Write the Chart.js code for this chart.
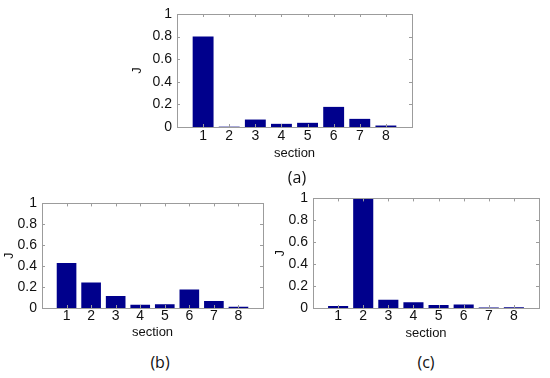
<!DOCTYPE html>
<html>
<head>
<meta charset="utf-8">
<script src="https://cdn.jsdelivr.net/npm/chart.js@4.4.0/dist/chart.umd.min.js"></script>
<style>
  body { margin: 0; background: #fff; width: 550px; height: 378px; overflow: hidden; position: relative; }
  .panel { position: absolute; }
  .cap { position: absolute; transform: translate(-50%, -50%); font: 16px "Open Sans", sans-serif; color: #111; }
</style>
</head>
<body>
<div class="panel" id="wa"><canvas id="chartA"></canvas></div>
<div class="panel" id="wb"><canvas id="chartB"></canvas></div>
<div class="panel" id="wc"><canvas id="chartC"></canvas></div>
<div class="cap" style="left:297px;top:177px">(a)</div>
<div class="cap" style="left:160px;top:362px">(b)</div>
<div class="cap" style="left:426px;top:362px">(c)</div>
<script>
// Data
const sections = [1, 2, 3, 4, 5, 6, 7, 8];
const jA = [0.80, 0.003, 0.066, 0.028, 0.037, 0.178, 0.072, 0.013];
const jB = [0.43, 0.244, 0.115, 0.031, 0.037, 0.178, 0.066, 0.012];
const jC = [0.018, 1.0, 0.076, 0.052, 0.027, 0.033, 0.004, 0.006];
const yTicks = [0, 0.2, 0.4, 0.6, 0.8, 1];
const yTickLabels = ['0', '0.2', '0.4', '0.6', '0.8', '1'];

// matlab style box with inward ticks
const boxPlugin = {
  id: 'box',
  afterDatasetsDraw(chart) {
    const { ctx, chartArea: a, scales } = chart;
    const t = 3;
    ctx.save();
    ctx.strokeStyle = '#9c9c9c';
    ctx.lineWidth = 1;
    ctx.beginPath();
    scales.x.ticks.forEach(tk => {
      const px = Math.round(scales.x.getPixelForValue(tk.value)) + 0.5;
      ctx.moveTo(px, a.top); ctx.lineTo(px, a.top + t);
      ctx.moveTo(px, a.bottom); ctx.lineTo(px, a.bottom - t);
    });
    scales.y.ticks.forEach(tk => {
      const py = Math.round(scales.y.getPixelForValue(tk.value)) + 0.5;
      ctx.moveTo(a.left, py); ctx.lineTo(a.left + t, py);
      ctx.moveTo(a.right, py); ctx.lineTo(a.right - t, py);
    });
    ctx.stroke();
    ctx.strokeRect(Math.round(a.left) + 0.5, Math.round(a.top) + 0.5,
      Math.round(a.right - a.left), Math.round(a.bottom - a.top));
    ctx.restore();
  }
};

function makePanel(id, wrapId, values, pos) {
  const wrap = document.getElementById(wrapId);
  wrap.style.left = pos.left + 'px';
  wrap.style.top = pos.top + 'px';
  wrap.style.width = pos.width + 'px';
  wrap.style.height = pos.height + 'px';
  const tickFont = { family: "'Liberation Sans', Arial, sans-serif", size: 14 };
  const titleFont = { family: "'Liberation Sans', Arial, sans-serif", size: 13 };
  const noGrid = { display: false, drawTicks: false, tickLength: 0 };
  return new Chart(document.getElementById(id), {
    type: 'bar',
    data: {
      datasets: [{
        data: sections.map((s, i) => ({ x: s, y: values[i] })),
        backgroundColor: '#00008c',
        borderWidth: 0,
        barPercentage: 0.8,
        categoryPercentage: 1
      }]
    },
    options: {
      responsive: true,
      maintainAspectRatio: false,
      animation: false,
      layout: { padding: { top: pos.padTop, right: pos.padRight, bottom: 0, left: 0 } },
      plugins: { legend: { display: false }, tooltip: { enabled: false } },
      scales: {
        x: {
          type: 'linear', min: 0, max: 9, offset: false,
          afterBuildTicks: s => { s.ticks = sections.map(v => ({ value: v })); },
          afterFit: s => { s.height = pos.hx; },
          grid: noGrid, border: { display: false },
          ticks: { color: '#111', font: tickFont, padding: pos.xPad, maxRotation: 0 },
          title: { display: true, text: 'section', color: '#111', font: titleFont, padding: 0 }
        },
        y: {
          min: 0, max: 1,
          afterBuildTicks: s => { s.ticks = yTicks.map(v => ({ value: v })); },
          afterFit: s => { s.width = pos.wy; },
          grid: noGrid, border: { display: false },
          ticks: { color: '#111', font: tickFont, padding: 5, callback: (v, i) => yTickLabels[i] },
          title: { display: true, text: 'J', color: '#111', font: titleFont, padding: 0 }
        }
      }
    },
    plugins: [boxPlugin]
  });
}

makePanel('chartA', 'wa', jA, { left: 130, top: 0, width: 288, height: 161, padTop: 14, padRight: 6, wy: 47, hx: 34, xPad: 1 });
makePanel('chartB', 'wb', jB, { left: 2, top: 190, width: 267, height: 150, padTop: 12, padRight: 6, wy: 40, hx: 32, xPad: 0 });
makePanel('chartC', 'wc', jC, { left: 273, top: 185, width: 272, height: 156, padTop: 12, padRight: 6, wy: 40, hx: 33, xPad: 0 });
</script>
</body>
</html>
